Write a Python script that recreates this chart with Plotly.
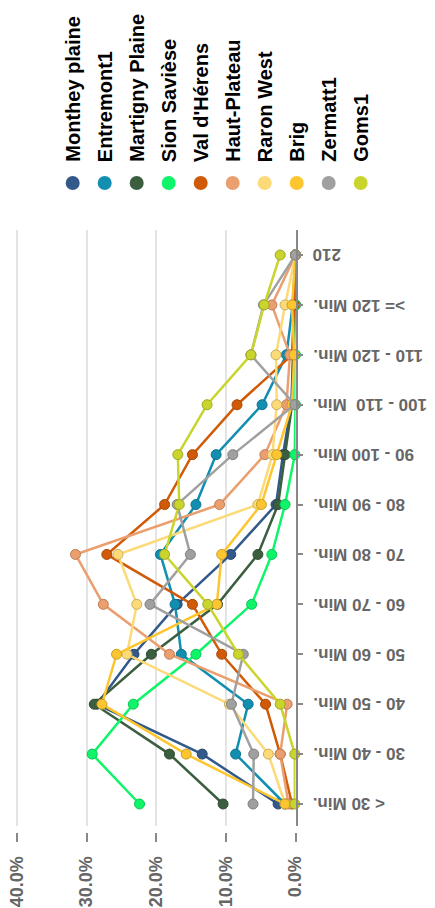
import plotly.graph_objects as go

# the page body adds an 8px margin; the figure is laid out in page pixels minus that offset
OFF = 8
W, H = 435 - OFF, 908 - OFF

categories = ["< 30 Min.", "30 - 40 Min.", "40 - 50 Min.", "50 - 60 Min.", "60 - 70 Min.",
              "70 - 80 Min.", "80 - 90 Min.", "90 - 100 Min.", "100 - 110  Min.",
              "110 - 120 Min.", ">= 120 Min.", "210"]

series_names = ["Monthey plaine", "Entremont1", "Martigny Plaine", "Sion Savièse", "Val d'Hérens",
                "Haut-Plateau", "Raron West", "Brig", "Zermatt1", "Goms1"]

monthey_plaine = [2.5, 13.4, 28.5, 23.2, 17.0, 9.3, 2.8, 1.8, 0.6, 0.3, 0.1, 0.0]
entremont1 = [1.5, 8.6, 6.8, 16.4, 17.3, 19.4, 14.3, 11.4, 4.8, 1.3, 0.4, 0.0]
martigny_plaine = [10.4, 18.1, 28.9, 20.7, 11.2, 5.4, 2.5, 1.5, 0.5, 0.3, 0.0, 0.0]
sion_saviese = [22.4, 29.2, 23.3, 14.3, 6.3, 3.4, 1.5, 0.1, 0.0, 0.0, 0.0, 0.0]
val_d_herens = [0.5, 2.2, 4.3, 10.6, 14.8, 27.1, 18.8, 14.8, 8.4, 0.5, 0.2, 0.0]
haut_plateau = [1.0, 2.2, 1.2, 18.1, 27.6, 31.6, 10.9, 4.4, 1.3, 0.8, 3.4, 0.0]
raron_west = [1.5, 3.9, 9.5, 24.2, 22.8, 25.5, 5.4, 3.3, 2.7, 2.8, 1.5, 0.0]
brig = [1.5, 15.7, 27.8, 25.7, 11.3, 10.6, 4.9, 2.7, 0.5, 0.2, 0.5, 0.0]
zermatt1 = [6.1, 6.0, 9.2, 7.5, 20.9, 15.1, 17.0, 9.0, 0.1, 6.4, 4.6, 0.0]
goms1 = [0.1, 0.1, 2.2, 8.2, 12.6, 18.8, 16.7, 16.9, 12.7, 6.4, 4.5, 2.2]

series_values = [monthey_plaine, entremont1, martigny_plaine, sion_saviese, val_d_herens,
                 haut_plateau, raron_west, brig, zermatt1, goms1]

colors = ["#32598a", "#128fb0", "#3b5e3f", "#0ef56a", "#d05a07",
          "#eb9e6e", "#fcda78", "#fdc52f", "#a0a0a0", "#c9d42d"]

value_ticks = [0, 10, 20, 30, 40]
value_tick_labels = ["0.0%", "10.0%", "20.0%", "30.0%", "40.0%"]


def darker(hex_color, f=0.8):
    h = hex_color.lstrip("#")
    r, g, b = (int(h[i:i + 2], 16) for i in (0, 2, 4))
    return "rgb(%d,%d,%d)" % (r * f, g * f, b * f)


def px_x(p):
    return (p - OFF) / W


def px_y(p):
    return 1 - (p - OFF) / H


fig = go.Figure()

for name, vals, col in zip(series_names, series_values, colors):
    fig.add_trace(go.Scatter(
        x=vals, y=categories, name=name, mode="lines+markers",
        line=dict(color=col, width=2.5),
        marker=dict(size=10, color=col, line=dict(color=darker(col), width=1)),
        cliponaxis=False, xaxis="x", yaxis="y",
    ))

# legend markers on their own categorical axis
fig.add_trace(go.Scatter(
    x=series_names, y=[0.5] * len(series_names), mode="markers",
    marker=dict(size=14, color=colors, line=dict(width=0)),
    xaxis="x2", yaxis="y2", cliponaxis=False, hoverinfo="skip",
))

annotations = []
for i, name in enumerate(series_names):
    annotations.append(dict(
        text=name, xref="x2", x=i, yref="paper", y=px_y(164),
        xanchor="center", yanchor="bottom", textangle=-90, showarrow=False,
        font=dict(family="Liberation Sans, Arial", size=20, color="#000", weight="bold"),
    ))

for i, cat in enumerate(categories):
    annotations.append(dict(
        text=cat, xref="paper", x=px_x(311), yref="y", y=i,
        xanchor="left", yanchor="middle", textangle=180, showarrow=False,
        font=dict(family="Liberation Sans, Arial", size=17, color="#666", weight="bold"),
    ))

x_zero, x_forty = 295.5, 17
ppv = (x_zero - x_forty) / 40.0
x_left = 12
x_max = (x_zero - x_left) / ppv
y_top, y_bot = 230, 826
ppu = (804 - 255) / 11.0

fig.update_layout(
    template="none",
    width=W, height=H, autosize=False,
    margin=dict(l=0, r=0, t=0, b=0, pad=0),
    paper_bgcolor="white", plot_bgcolor="white",
    showlegend=False,
    annotations=annotations,
    xaxis=dict(
        domain=[px_x(x_left), px_x(x_zero)], range=[x_max, 0],
        anchor="free", position=px_y(832), automargin=False,
        tickmode="array", tickvals=value_ticks, ticktext=value_tick_labels,
        ticks="outside", ticklen=9, tickwidth=1.5, tickcolor="#888",
        tickangle=-90, ticklabelstandoff=7, ticklabeloverflow="allow",
        tickfont=dict(family="Liberation Sans, Arial", size=18, color="#666", weight="bold"),
        showgrid=True, gridcolor="#e4e4e4", gridwidth=1.5,
        zeroline=False, showline=False,
    ),
    yaxis=dict(
        domain=[px_y(y_bot), px_y(y_top)], automargin=False,
        type="category", categoryarray=categories, categoryorder="array",
        range=[-(y_bot - 804) / ppu, 11 + (255 - y_top) / ppu],
        side="right", anchor="x",
        showline=True, linecolor="#888", linewidth=2,
        ticks="outside", ticklen=5, tickcolor="#888", tickwidth=1.5,
        showticklabels=False, showgrid=False, zeroline=False,
    ),
    xaxis2=dict(
        domain=[px_x(72.7 - 16), px_x(360.7 + 16)], range=[-0.5, 9.5],
        type="category", categoryarray=series_names, automargin=False,
        anchor="y2", visible=False,
    ),
    yaxis2=dict(
        domain=[px_y(193), px_y(173)], range=[0, 1], automargin=False,
        anchor="x2", visible=False,
    ),
)

fig.write_html("out.html")
